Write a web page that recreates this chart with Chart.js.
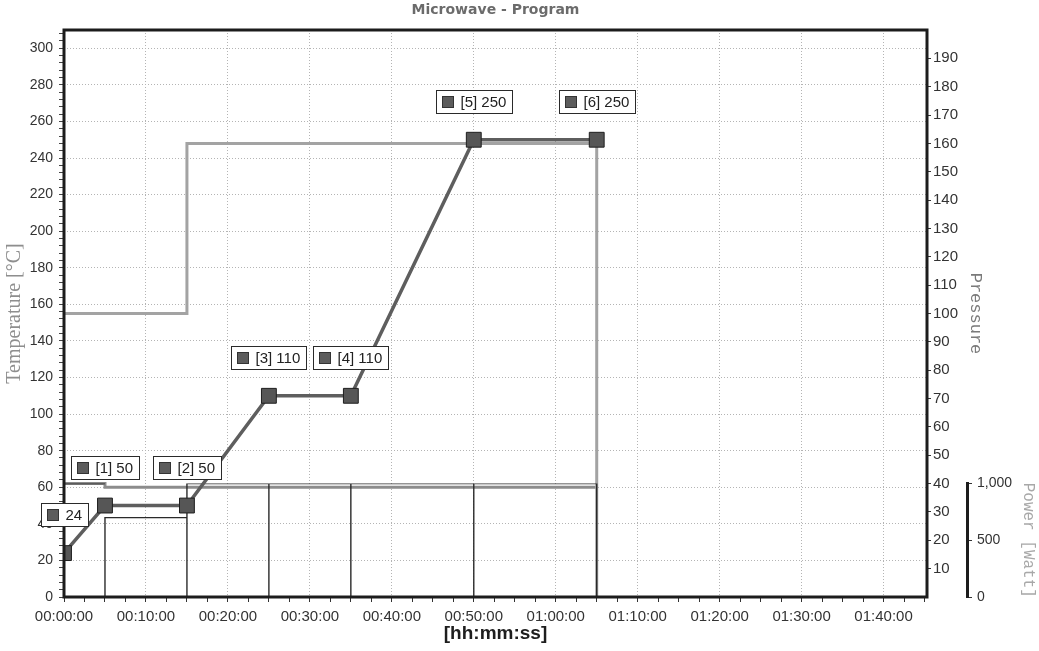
<!DOCTYPE html>
<html>
<head>
<meta charset="utf-8">
<title>Microwave - Program</title>
<script src="https://cdn.jsdelivr.net/npm/chart.js@4.4.1/dist/chart.umd.min.js"></script>
<style>
  html, body { margin: 0; padding: 0; background: #fff; }
  #wrap { position: relative; width: 1039px; height: 651px; }
</style>
</head>
<body>
<div id="wrap"><canvas id="chart"></canvas></div>
<script>
// Program steps: time (minutes) and target temperature (°C)
const stepTimes = [0, 5, 15, 25, 35, 50, 65];
const stepTemps = [24, 50, 50, 110, 110, 250, 250];

// Pressure limit trace (bar)
const pressureTimes  = [0, 15, 15, 65, 65];
const pressureValues = [100, 100, 160, 160, 0];

// Second temperature trace (°C)
const t2Times  = [0, 5, 5, 65];
const t2Values = [62, 62, 60, 60];

// Microwave power per step (W)
const powerStart = [0, 5, 15, 25, 35, 50];
const powerEnd   = [5, 15, 25, 35, 50, 65];
const powerWatts = [1000, 700, 1000, 1000, 1000, 1000];

// Axis ticks
const timeTickValues = [0, 10, 20, 30, 40, 50, 60, 70, 80, 90, 100];
const timeTickLabels = ['00:00:00', '00:10:00', '00:20:00', '00:30:00', '00:40:00', '00:50:00',
                        '01:00:00', '01:10:00', '01:20:00', '01:30:00', '01:40:00'];
const tempTickValues = [0, 20, 40, 60, 80, 100, 120, 140, 160, 180, 200, 220, 240, 260, 280, 300];
const pressureTickValues = [10, 20, 30, 40, 50, 60, 70, 80, 90, 100, 110, 120, 130, 140, 150, 160, 170, 180, 190];
const powerTickValues = [0, 500, 1000];
const powerTickLabels = ['0', '500', '1,000'];

const SANS = "'Liberation Sans', Arial, sans-serif";
const GRID = '#b4b4b4';
const TRANSPARENT = 'rgba(0,0,0,0)';

// ---- datasets built from the arrays above ----
const tempPoints = stepTimes.map((t, i) => ({ x: t, y: stepTemps[i] }));
const pressurePoints = pressureTimes.map((t, i) => ({ x: t, y: pressureValues[i] }));
const t2Points = t2Times.map((t, i) => ({ x: t, y: t2Values[i] }));

// each power step: rise from zero at its start, then hold until its end
const powerPoints = [];
powerStart.forEach((t0, i) => {
  powerPoints.push({ x: t0, y: 0 }, { x: t0, y: powerWatts[i] }, { x: powerEnd[i], y: powerWatts[i] });
  if (i === powerStart.length - 1) {
    powerPoints.push({ x: powerEnd[i], y: 0 });
  } else {
    powerPoints.push({ x: powerEnd[i], y: null });
  }
});

// minor tick positions (subdivisions of the labelled ticks)
function subdivide(from, to, step) {
  const out = [];
  const n = Math.round((to - from) / step);
  for (let k = 0; k <= n; k++) out.push(from + k * step);
  return out;
}
const timeMinor = subdivide(0, 105, 2.5);
const tempMinor = subdivide(0, 308, 4);

// step labels: small framed boxes above each program point
const stepLabels = {
  id: 'stepLabels',
  afterDraw(chart) {
    const { ctx } = chart;
    const xs = chart.scales.x, ys = chart.scales.y;
    ctx.save();
    ctx.font = '15px ' + SANS;
    ctx.textBaseline = 'middle';
    ctx.lineWidth = 1;
    stepTimes.forEach((t, i) => {
      const text = i === 0 ? String(stepTemps[i]) : '[' + i + '] ' + stepTemps[i];
      const px = xs.getPixelForValue(t);
      const py = ys.getPixelForValue(stepTemps[i]);
      const w = Math.round(24 + ctx.measureText(text).width + 6);
      const h = 23;
      const left = Math.round(px - w / 2) + 0.5;
      const top = Math.round(py - 27 - h) + 0.5;
      ctx.fillStyle = '#ffffff';
      ctx.fillRect(left, top, w, h);
      ctx.strokeStyle = '#2a2a2a';
      ctx.strokeRect(left, top, w, h);
      ctx.fillStyle = '#5c5c5c';
      ctx.fillRect(left + 6, top + 6, 11, 11);
      ctx.strokeStyle = '#333';
      ctx.strokeRect(left + 6, top + 6, 11, 11);
      ctx.fillStyle = '#222';
      ctx.fillText(text, left + 24, top + h / 2 + 1);
    });
    ctx.restore();
  }
};

// heavy frame around the plotting area
const plotFrame = {
  id: 'plotFrame',
  afterDatasetsDraw(chart) {
    const { ctx, chartArea: a } = chart;
    ctx.save();
    ctx.strokeStyle = '#1c1c1c';
    ctx.lineWidth = 3;
    ctx.strokeRect(a.left, a.top, a.right - a.left, a.bottom - a.top);
    ctx.restore();
  }
};

Chart.defaults.font.family = SANS;
Chart.defaults.color = '#333';

new Chart(document.getElementById('chart'), {
  type: 'line',
  data: {
    datasets: [
      {
        label: 'Temperature',
        data: tempPoints,
        yAxisID: 'y',
        borderColor: '#5e5e5e',
        borderWidth: 3.5,
        pointStyle: 'rect',
        pointRadius: 10.5,
        pointBackgroundColor: '#565656',
        pointBorderColor: '#1e1e1e',
        pointBorderWidth: 1,
        tension: 0
      },
      {
        label: 'Power',
        data: powerPoints,
        yAxisID: 'yW',
        borderColor: '#2a2a2a',
        borderWidth: 1.4,
        pointRadius: 0,
        spanGaps: false,
        tension: 0
      },
      {
        label: 'Pressure',
        data: pressurePoints,
        yAxisID: 'yP',
        borderColor: '#a3a3a3',
        borderWidth: 3,
        pointRadius: 0,
        tension: 0
      },
      {
        label: 'T2',
        data: t2Points,
        yAxisID: 'y',
        borderColor: '#8c8c8c',
        borderWidth: 3,
        pointRadius: 0,
        tension: 0
      }
    ]
  },
  options: {
    responsive: true,
    maintainAspectRatio: false,
    animation: false,
    events: [],
    layout: { padding: 0 },
    plugins: {
      legend: { display: false },
      tooltip: { enabled: false },
      title: {
        display: true,
        fullSize: false,
        text: 'Microwave - Program',
        color: '#6b6b6b',
        font: { family: "'DejaVu Sans', Verdana, sans-serif", size: 14, weight: 'bold' },
        padding: { top: 2, bottom: 11.2 }
      }
    },
    scales: {
      x: {
        type: 'linear',
        position: 'bottom',
        min: 0,
        max: 105.3,
        afterBuildTicks: s => { s.ticks = timeMinor.map(v => ({ value: v })); },
        afterFit: s => { s.height = 54; },
        border: { display: false, dash: [1, 2] },
        grid: {
          color: c => (c.tick && timeTickValues.includes(c.tick.value)) ? GRID : TRANSPARENT,
          tickColor: '#333',
          tickLength: 5,
          lineWidth: 1
        },
        ticks: {
          autoSkip: false,
          maxRotation: 0,
          minRotation: 0,
          padding: 6,
          color: '#333',
          font: { size: 15 },
          callback: v => {
            const i = timeTickValues.indexOf(v);
            return i >= 0 ? timeTickLabels[i] : '';
          }
        },
        title: {
          display: true,
          text: '[hh:mm:ss]',
          color: '#1e1e1e',
          font: { size: 19, weight: 'bold' },
          padding: { top: 0, bottom: 5.6 }
        }
      },
      y: {
        type: 'linear',
        position: 'left',
        min: 0,
        max: 310,
        afterBuildTicks: s => { s.ticks = tempMinor.map(v => ({ value: v })); },
        afterFit: s => { s.width = 64; },
        border: { display: false, dash: [1, 2] },
        grid: {
          color: c => (c.tick && tempTickValues.includes(c.tick.value)) ? GRID : TRANSPARENT,
          tickColor: '#444',
          tickLength: 5,
          lineWidth: 1
        },
        ticks: {
          autoSkip: false,
          padding: 6,
          color: '#333',
          font: { size: 14 },
          callback: v => tempTickValues.includes(v) ? String(v) : ''
        },
        title: {
          display: true,
          text: 'Temperature [°C]',
          color: '#8e8e8e',
          font: { family: "'Liberation Serif', 'Times New Roman', serif", size: 20 },
          padding: { top: 3, bottom: 0 }
        }
      },
      yP: {
        type: 'linear',
        position: 'right',
        weight: 0,
        min: 0,
        max: 200,
        afterBuildTicks: s => { s.ticks = pressureTickValues.map(v => ({ value: v })); },
        afterFit: s => { s.width = 40; },
        border: { display: false },
        grid: { drawOnChartArea: false, tickColor: '#333', tickLength: 4 },
        ticks: {
          autoSkip: false,
          padding: 2,
          color: '#333',
          font: { size: 15 },
          callback: v => String(v)
        },
        title: {
          display: true,
          text: 'Pressure',
          color: '#7a7a7a',
          font: { family: "'Liberation Mono', 'Courier New', monospace", size: 17 },
          padding: { top: -18.2, bottom: 0 }
        }
      },
      yPad: {
        type: 'linear',
        position: 'right',
        display: false,
        weight: 1,
        stack: 'power',
        stackWeight: 4,
        min: 0,
        max: 1
      },
      yW: {
        type: 'linear',
        position: 'right',
        weight: 1,
        stack: 'power',
        stackWeight: 1,
        min: 0,
        max: 1000,
        afterBuildTicks: s => { s.ticks = powerTickValues.map(v => ({ value: v })); },
        afterFit: s => { s.width = 72; },
        border: { display: true, width: 3, color: '#1c1c1c' },
        grid: { drawOnChartArea: false, tickColor: '#333', tickLength: 5 },
        ticks: {
          autoSkip: false,
          padding: 5,
          color: '#333',
          font: { size: 14 },
          callback: v => {
            const i = powerTickValues.indexOf(v);
            return i >= 0 ? powerTickLabels[i] : '';
          }
        },
        title: {
          display: true,
          text: 'Power [Watt]',
          color: '#a8a8a8',
          font: { family: "'Liberation Mono', 'Courier New', monospace", size: 16 },
          padding: { top: 1.4, bottom: 0 }
        }
      }
    }
  },
  plugins: [plotFrame, stepLabels]
});
</script>
</body>
</html>
